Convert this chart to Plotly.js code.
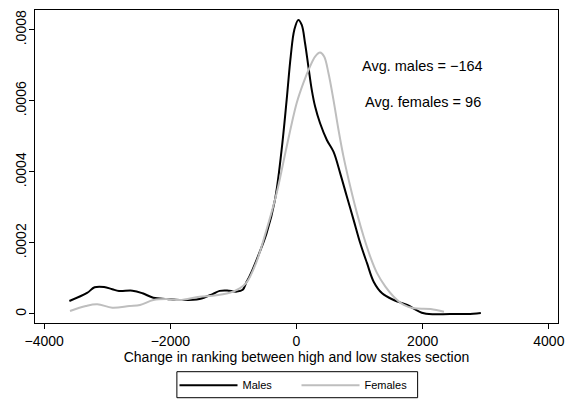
<!DOCTYPE html>
<html>
<head>
<meta charset="utf-8">
<script src="https://cdn.plot.ly/plotly-3.0.1.min.js"></script>
<style>html,body{margin:0;padding:0;background:#fff;}#chart{width:567px;height:401px;}</style>
</head>
<body>
<div id="chart"></div>
<script>
const malesX = [-3600, -3320, -3200, -3050, -2920, -2813, -2600, -2440, -2270, -2055, -1850, -1537, -1330, -1218, -1100, -947, -852, -793, -740, -634, -475, -342, -236, -156, -92, -35, 29, 83, 135, 188, 242, 295, 374, 481, 586, 693, 799, 905, 1011, 1118, 1223, 1357, 1541, 1755, 2019, 2444, 2710, 2922];
const malesY = [0.0000366, 0.0000592, 0.0000752, 0.000076, 0.0000696, 0.0000648, 0.0000656, 0.0000583, 0.0000459, 0.0000423, 0.0000394, 0.0000423, 0.000056, 0.000065, 0.000066, 0.000063, 0.000068, 0.00009, 0.000108, 0.000152, 0.000227, 0.000321, 0.000462, 0.000603, 0.000725, 0.0008, 0.000828, 0.000814, 0.000763, 0.000697, 0.000631, 0.000584, 0.000537, 0.00049, 0.000457, 0.000396, 0.00033, 0.000265, 0.000199, 0.000143, 0.000091, 0.0000583, 0.0000394, 0.0000254, 0.000002, 0, 0, 0.000003];

const femalesX = [-3590, -3340, -3157, -2920, -2650, -2480, -2270, -2055, -1850, -1537, -1330, -1059, -900, -793, -634, -475, -315, -156, 3, 108, 215, 295, 374, 438, 507, 586, 666, 745, 852, 958, 1064, 1170, 1277, 1409, 1541, 1701, 1860, 2126, 2338];
const femalesY = [0.0000085, 0.0000225, 0.0000273, 0.0000178, 0.0000225, 0.0000254, 0.0000394, 0.0000423, 0.0000394, 0.0000487, 0.0000515, 0.00006, 0.000072, 0.000088, 0.000147, 0.000237, 0.00034, 0.000471, 0.000594, 0.00065, 0.000697, 0.000725, 0.000736, 0.000725, 0.000678, 0.000603, 0.000518, 0.000443, 0.000359, 0.000284, 0.000218, 0.000161, 0.000115, 0.0000769, 0.0000487, 0.0000254, 0.000016, 0.000014, 0.0000065];

const xTickVals = [-4000, -2000, 0, 2000, 4000];
const xTickText = ["\u22124000", "\u22122000", "0", "2000", "4000"];
const yTickVals = [0, 0.0002, 0.0004, 0.0006, 0.0008];
const yTickText = ["0", ".0002", ".0004", ".0006", ".0008"];

const seriesNames = ["Males", "Females"];
const noteTexts = ["Avg. males = \u2212164", "Avg. females = 96"];
const noteX = [2000, 2000];
const noteY = [0.000698, 0.000598];
const xTitle = "Change in ranking between high and low stakes section";

const font = "'Liberation Sans', Arial, Helvetica, sans-serif";

const traces = [
  {x: malesX, y: malesY, name: seriesNames[0], type: 'scatter', mode: 'lines',
   line: {color: '#000000', width: 2, shape: 'spline', smoothing: 1}},
  {x: femalesX, y: femalesY, name: seriesNames[1], type: 'scatter', mode: 'lines',
   line: {color: '#bebebe', width: 2, shape: 'spline', smoothing: 1}}
];

const layout = {
  width: 567, height: 401,
  margin: {l: 35, r: 9, t: 10, b: 78, pad: 0, autoexpand: false},
  paper_bgcolor: '#ffffff', plot_bgcolor: '#ffffff',
  font: {family: font, color: '#000000', size: 14},
  showlegend: true,
  xaxis: {
    range: [-4145, 4145], tickvals: xTickVals, ticktext: xTickText,
    ticks: 'outside', ticklen: 5, tickwidth: 1, tickcolor: '#000',
    showline: true, mirror: true, linecolor: '#000', linewidth: 1,
    showgrid: false, zeroline: false,
    tickfont: {size: 14, family: font},
    title: {text: xTitle, font: {size: 14, family: font}, standoff: 4}
  },
  yaxis: {
    range: [-0.0000254, 0.000856], tickvals: yTickVals, ticktext: yTickText,
    tickangle: -90, ticklabelstandoff: -3,
    ticks: 'outside', ticklen: 5, tickwidth: 1, tickcolor: '#000',
    showline: true, mirror: true, linecolor: '#000', linewidth: 1,
    showgrid: false, zeroline: false,
    tickfont: {size: 14, family: font}
  },
  legend: {
    orientation: 'h', x: 0.5, xanchor: 'center', y: -0.1524, yanchor: 'top',
    borderwidth: 0, bgcolor: 'rgba(0,0,0,0)',
    font: {size: 11, family: font}, itemwidth: 58, entrywidth: 49
  },
  shapes: [{
    type: 'rect', xref: 'paper', yref: 'paper',
    x0: 0.2713, x1: 0.7316, y0: -0.2387, y1: -0.1556,
    line: {color: '#000', width: 1}, fillcolor: 'rgba(0,0,0,0)', layer: 'above'
  }],
  annotations: noteTexts.map((t, i) => ({
    x: noteX[i], y: noteY[i], xref: 'x', yref: 'y', text: t, showarrow: false,
    font: {size: 14.5, family: font}, xanchor: 'center', yanchor: 'middle'
  }))
};

Plotly.newPlot('chart', traces, layout, {displayModeBar: false, staticPlot: true});
</script>
</body>
</html>
